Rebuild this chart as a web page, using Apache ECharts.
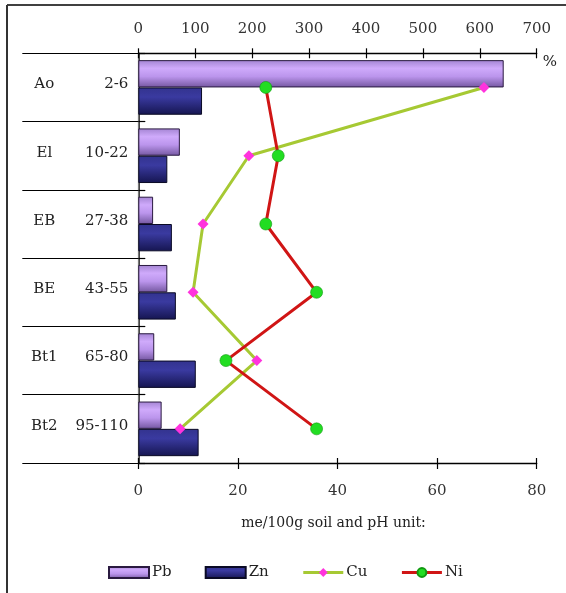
<!DOCTYPE html>
<html>
<head>
<meta charset="utf-8">
<script src="https://cdn.jsdelivr.net/npm/echarts@6/dist/echarts.min.js"></script>
<style>
html,body{margin:0;padding:0;background:#fff;}
#c{width:566px;height:593px;}
</style>
</head>
<body>
<div id="c"></div>
<script>
// ---- data ----
const horizons = ['Ao', 'El', 'EB', 'BE', 'Bt1', 'Bt2'];
const depths = ['2-6', '10-22', '27-38', '43-55', '65-80', '95-110'];
const pb = [642, 73, 26, 51, 28, 41];      // % (top axis)
const zn = [112, 51, 59, 66, 101, 106];    // % (top axis)
const cu = [69.4, 22.2, 13.0, 11.0, 23.8, 8.4]; // me/100g (bottom axis)
const ni = [25.6, 28.1, 25.6, 35.8, 17.6, 35.8]; // me/100g (bottom axis)
const topTicks = {min: 0, max: 700, interval: 100};
const bottomTicks = {min: 0, max: 80, interval: 20};

const cats = horizons.map((h, i) => h + '|' + depths[i]);
const FONT = 'DejaVu Serif';

const chart = echarts.init(document.getElementById('c'), null, {renderer: 'canvas'});

const pbColor = new echarts.graphic.LinearGradient(0, 0, 0, 1, [
  {offset: 0, color: '#a384d2'},
  {offset: 0.3, color: '#cfaafb'},
  {offset: 0.6, color: '#bb95ec'},
  {offset: 1, color: '#7457a0'}
]);
const znColor = new echarts.graphic.LinearGradient(0, 0, 0, 1, [
  {offset: 0, color: '#33338e'},
  {offset: 0.35, color: '#3a3aa0'},
  {offset: 1, color: '#151550'}
]);

const catAxisBase = {
  type: 'category', data: cats, inverse: true, boundaryGap: true
};

chart.setOption({
  animation: false,
  backgroundColor: '#fff',
  grid: {left: 138.3, right: 29.3, top: 53.3, bottom: 130, containLabel: false},
  graphic: [
    {type: 'line', shape: {x1: 7, y1: 5, x2: 566, y2: 5}, style: {stroke: '#000', lineWidth: 1.5}},
    {type: 'line', shape: {x1: 7, y1: 5, x2: 7, y2: 593}, style: {stroke: '#333', lineWidth: 2}}
  ],
  xAxis: [
    Object.assign({type: 'value', position: 'top', gridIndex: 0,
      name: '%', nameLocation: 'end', nameGap: 6,
      nameTextStyle: {fontFamily: FONT, fontSize: 15, color: '#222', verticalAlign: 'top', padding: [1, 0, 0, 0]},
      axisLine: {show: true, lineStyle: {color: '#000', width: 1.3}},
      axisTick: {show: true, inside: true, length: 5, lineStyle: {color: '#000', width: 1.2}},
      axisLabel: {fontFamily: FONT, fontSize: 15, color: '#333', margin: 17},
      splitLine: {show: false}}, topTicks),
    Object.assign({type: 'value', position: 'bottom',
      name: 'me/100g soil and pH unit:', nameLocation: 'middle', nameGap: 53,
      nameTextStyle: {fontFamily: FONT, fontSize: 14, color: '#222', padding: [0, 8, 0, 0]},
      axisLine: {show: true, lineStyle: {color: '#000', width: 1.3}},
      axisTick: {show: true, inside: true, length: 5, lineStyle: {color: '#000', width: 1.2}},
      axisLabel: {fontFamily: FONT, fontSize: 15, color: '#333', margin: 21},
      splitLine: {show: false}}, bottomTicks),
    Object.assign({type: 'value', position: 'top',
      axisLine: {show: false},
      axisTick: {show: true, inside: false, length: 5, lineStyle: {color: '#000', width: 1.2}},
      axisLabel: {show: false}, splitLine: {show: false}}, topTicks),
    Object.assign({type: 'value', position: 'bottom',
      axisLine: {show: false},
      axisTick: {show: true, inside: false, length: 6, lineStyle: {color: '#000', width: 1.2}},
      axisLabel: {show: false}, splitLine: {show: false}}, bottomTicks)
  ],
  yAxis: [
    Object.assign({}, catAxisBase, {
      position: 'left',
      axisLine: {show: true, lineStyle: {color: '#000', width: 1.5}},
      axisTick: {show: true, inside: false, length: 116, lineStyle: {color: '#000', width: 1.2}},
      axisLabel: {
        margin: 10,
        formatter: function (v) {
          const p = v.split('|');
          return '{a|' + p[0] + '}{b|' + p[1] + '}';
        },
        rich: {
          a: {fontFamily: FONT, fontSize: 15, color: '#222', width: 40, align: 'center', padding: [0, 0, 6, 0]},
          b: {fontFamily: FONT, fontSize: 15, color: '#222', width: 64, align: 'right', padding: [0, 0, 6, 0]}
        }
      }
    }),
    Object.assign({}, catAxisBase, {
      position: 'left',
      axisLine: {show: false},
      axisTick: {show: true, inside: true, length: 7, lineStyle: {color: '#000', width: 1.2}},
      axisLabel: {show: false}
    }),
    Object.assign({}, catAxisBase, {
      position: 'right',
      axisLine: {show: true, lineStyle: {color: '#777', width: 1.2}},
      axisTick: {show: false},
      axisLabel: {show: false}
    })
  ],
  legend: {
    left: 103, top: 560,
    itemWidth: 40, itemHeight: 11, itemGap: 33,
    lineStyle: {width: 3},
    textStyle: {fontFamily: FONT, fontSize: 15, color: '#222', padding: [0, 0, 0, -2]},
    data: [
      {name: 'Pb', icon: 'rect'},
      {name: 'Zn', icon: 'rect'},
      {name: 'Cu'},
      {name: 'Ni'}
    ]
  },
  series: [
    {name: 'Pb', type: 'bar', xAxisIndex: 0, yAxisIndex: 0, data: pb,
      barCategoryGap: '20%', barGap: '0%',
      itemStyle: {color: pbColor, borderColor: '#2a1a40', borderWidth: 1}},
    {name: 'Zn', type: 'bar', xAxisIndex: 0, yAxisIndex: 0, data: zn,
      barCategoryGap: '20%', barGap: '0%',
      itemStyle: {color: znColor, borderColor: '#0a0a25', borderWidth: 1}},
    {name: 'Cu', type: 'line', xAxisIndex: 1, yAxisIndex: 0, data: cu,
      symbol: 'diamond', symbolSize: 11,
      lineStyle: {color: '#a6c933', width: 3},
      itemStyle: {color: '#ff33dd', borderWidth: 0}},
    {name: 'Ni', type: 'line', xAxisIndex: 1, yAxisIndex: 0, data: ni,
      symbol: 'circle', symbolSize: 12,
      lineStyle: {color: '#d01515', width: 3},
      itemStyle: {color: '#22dd22', borderColor: '#119911', borderWidth: 0.6}}
  ]
});
</script>
</body>
</html>
